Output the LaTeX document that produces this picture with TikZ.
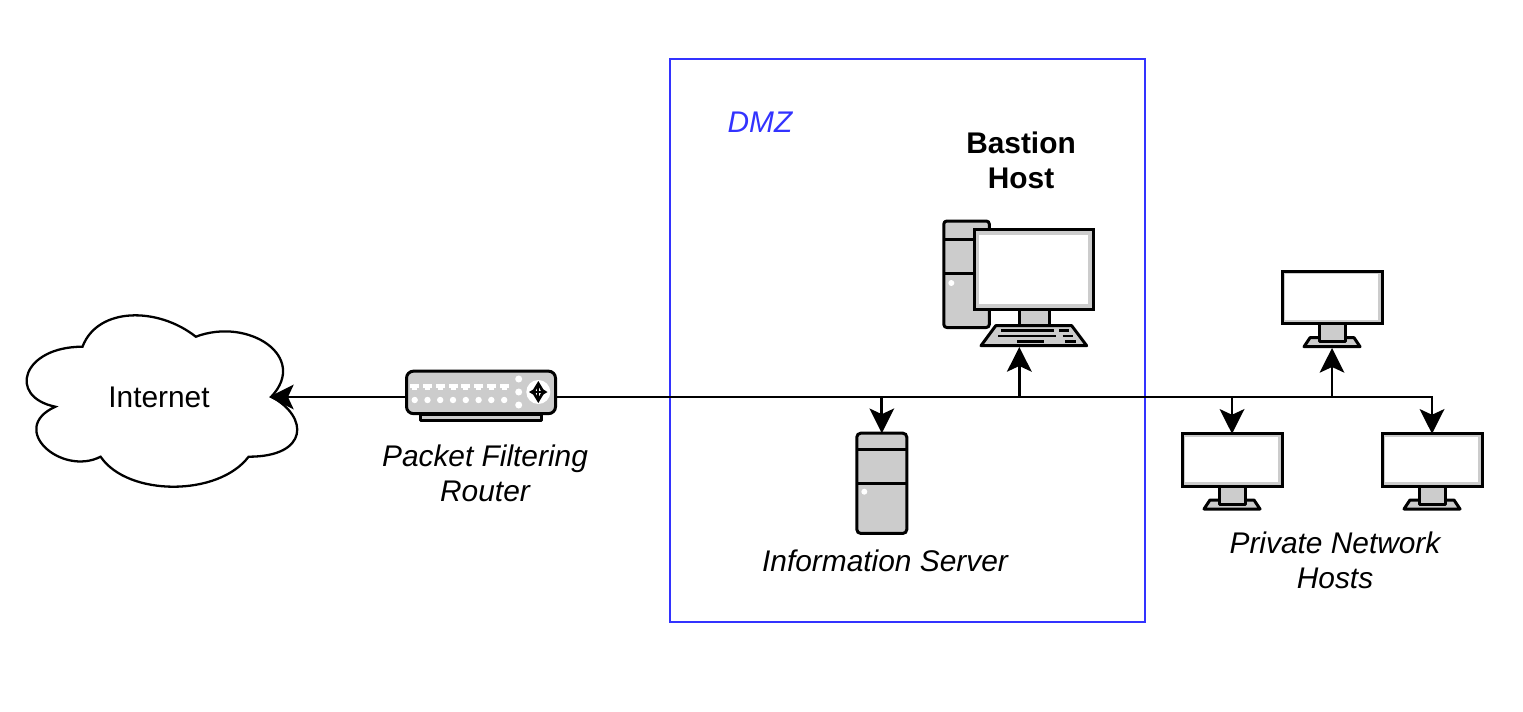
\documentclass[tikz,border=0pt]{standalone}
\usepackage{fontspec}
\setmainfont{Liberation Sans}
\usetikzlibrary{arrows.meta}
\definecolor{dmzblue}{HTML}{3333FF}
\definecolor{iconfill}{HTML}{CCCCCC}
\def\px{0.02cm}
\tikzset{
	label17/.style={font=\fontsize{17}{19.85}\selectfont,align=center},
	link/.style={line width=1.6pt,-{Stealth[length=14pt,width=14pt,inset=3.2pt]}},
	iconline/.style={line width=1.7pt,line join=round},
	screenbox/.style={draw=black,line width=1.7pt,fill=iconfill,rectangle,outer sep=0pt,inner sep=0pt},
	deskmon/.pic={
		% base, neck, screen
		\draw[iconline,fill=iconfill] (-22,67) -- (22,67) -- (28,76) -- (-28,76) -- cycle;
		\draw[iconline,fill=iconfill] (-13,53) rectangle (13,71);
		\node[screenbox,minimum width=100*\px,minimum height=52.5*\px] (-screen) at (0,27) {};
		\fill[white] (-47,3.5) rectangle (45.5,49);
	}
}
\begin{document}
\begin{tikzpicture}[x=\px,y=-\px]
	\useasboundingbox (0,0) rectangle (1523,711);

	% DMZ frame
	\node[draw=dmzblue,line width=1.4pt,rectangle,outer sep=0pt,minimum width=475*\px,minimum height=563*\px] (dmz) at (907.5,340.5) {};
	\node[label17,text=dmzblue,font=\fontsize{17}{19.85}\selectfont\itshape] (dmzlabel) at (760,122) {DMZ};

	% cloud
	\draw[line width=1.3pt,fill=white] (82.5,346.7)
		.. controls (22.1,346.7) and (7,396.7) .. (55.3,406.7)
		.. controls (7,428.7) and (61.4,476.7) .. (100.6,456.7)
		.. controls (127.8,496.7) and (218.4,496.7) .. (248.6,456.7)
		.. controls (309,456.7) and (309,416.7) .. (271.3,396.7)
		.. controls (309,356.7) and (248.6,316.7) .. (195.8,336.7)
		.. controls (158,306.7) and (97.6,306.7) .. (82.5,346.7) -- cycle;
	\node[label17] (internet) at (159,397) {Internet};
	\coordinate (cloudtip) at (269,397);

	% router
	\draw[iconline,fill=iconfill] (420.5,414) rectangle (541.5,420.5);
	\node[screenbox,rounded corners=7*\px,minimum width=149*\px,minimum height=42.5*\px] (router) at (481,392.4) {};
	\foreach \portx in {414.7,427.5,440.2,453,465.8,478.6,491.3,504.2} {
		\fill[white] (\portx-4.5,383.5) rectangle (\portx+4.5,387.5);
		\fill[white] (\portx-2.5,387.5) rectangle (\portx+2.5,390);
		\fill[white] (\portx,400) circle (3.2);
	}
	\foreach \doty in {379,392,405}
		\fill[white] (518.7,\doty) circle (3.5);
	\fill[white] (538.3,392) circle (12);
	\draw[line width=1.2pt,{Stealth[length=5pt,width=6pt]}-{Stealth[length=5pt,width=6pt]}] (538.3,381) -- (538.3,403);
	\draw[line width=1.2pt,{Stealth[length=5pt,width=6pt]}-{Stealth[length=5pt,width=6pt]}] (529,392) -- (547.5,392);
	\coordinate (routerwest) at (406,397);
	\coordinate (routereast) at (556,397);
	\node[label17,font=\fontsize{17}{19.85}\selectfont\itshape] (routerlabel) at (485,473.5) {Packet Filtering\\Router};

	% bastion host
	\draw[iconline,fill=iconfill,rounded corners=3*\px] (943.8,221) rectangle (989.3,327.5);
	\draw[iconline] (943.8,239) -- (975,239);
	\draw[iconline] (943.8,273) -- (975,273);
	\fill[white] (951.3,283) circle (3);
	\draw[iconline,fill=iconfill] (995.7,325.7) -- (1071.7,325.7) -- (1086.7,345.7) -- (981,345.7) -- cycle;
	\draw[iconline,fill=iconfill] (1019,308) rectangle (1049,325.5);
	\foreach \keyxa/\keyxb/\keyy in {1001/1054.3/330.7,1059.3/1069.3/330.7,998.3/1056/336,1062.7/1072.7/336,1017.3/1044/341.3,1065/1075.7/341.3}
		\draw[line width=1.6pt] (\keyxa,\keyy) -- (\keyxb,\keyy);
	\node[screenbox,minimum width=119.5*\px,minimum height=80*\px] (bastion) at (1034,269.7) {};
	\fill[white] (978.5,235) rectangle (1087.5,304);
	\coordinate (bastionkb) at (1019.3,347);
	\node[label17,font=\fontsize{17}{19.85}\selectfont\bfseries] (bastionlabel) at (1021,160.5) {Bastion\\Host};

	% information server
	\node[screenbox,rounded corners=4*\px,minimum width=50*\px,minimum height=100.3*\px] (server) at (881.8,483.3) {};
	\draw[iconline] (server.west |- 0,449) -- (server.east |- 0,449);
	\draw[iconline] (server.west |- 0,483.3) -- (server.east |- 0,483.3);
	\fill[white] (864.3,491.7) circle (3);
	\node[label17,font=\fontsize{17}{19.85}\selectfont\itshape] (serverlabel) at (885,561) {Information Server};

	% private network hosts
	\pic (hosta) at (1332,270.7) {deskmon};
	\pic (hostb) at (1232,433) {deskmon};
	\pic (hostc) at (1432,433) {deskmon};
	\coordinate (hostabase) at (1332,348);
	\node[label17,font=\fontsize{17}{19.85}\selectfont\itshape] (hostslabel) at (1335,560.5) {Private Network\\Hosts};

	% connectors
	\draw[link] (routerwest) -- (cloudtip);
	\draw[link] (routereast) -| (hostc-screen.north);
	\draw[link] (server.north |- routereast) -- (server.north);
	\draw[link] (bastionkb |- routereast) -- (bastionkb);
	\draw[line width=1.6pt] (bastionkb |- routereast) ++(0,-1) -- ++(0,-25);
	\draw[link] (hostb-screen.north |- routereast) -- (hostb-screen.north);
	\draw[link] (hostabase |- routereast) -- (hostabase);
\end{tikzpicture}
\end{document}
